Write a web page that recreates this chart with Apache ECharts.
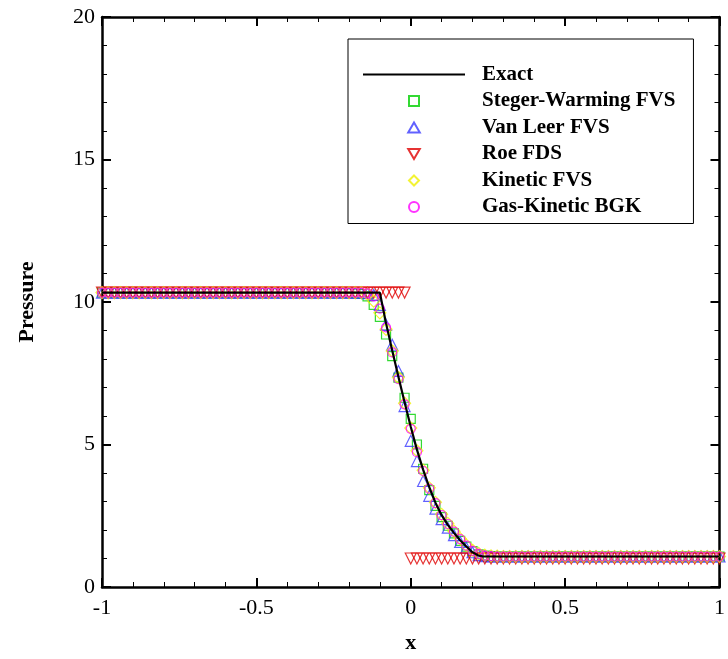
<!DOCTYPE html>
<html>
<head>
<meta charset="utf-8">
<script src="https://cdn.jsdelivr.net/npm/echarts@6/dist/echarts.min.js"></script>
<style>html,body{margin:0;padding:0;background:#fff}#c{width:728px;height:659px}</style>
</head>
<body>
<div id="c"></div>
<script>
// ---- data ----
const xs = [-1,-0.98,-0.96,-0.94,-0.92,-0.9,-0.88,-0.86,-0.84,-0.82,
 -0.8,-0.78,-0.76,-0.74,-0.72,-0.7,-0.68,-0.66,-0.64,-0.62,
 -0.6,-0.58,-0.56,-0.54,-0.52,-0.5,-0.48,-0.46,-0.44,-0.42,
 -0.4,-0.38,-0.36,-0.34,-0.32,-0.3,-0.28,-0.26,-0.24,-0.22,
 -0.2,-0.18,-0.16,-0.14,-0.12,-0.1,-0.08,-0.06,-0.04,-0.02,
 0,0.02,0.04,0.06,0.08,0.1,0.12,0.14,0.16,0.18,
 0.2,0.22,0.24,0.26,0.28,0.3,0.32,0.34,0.36,0.38,
 0.4,0.42,0.44,0.46,0.48,0.5,0.52,0.54,0.56,0.58,
 0.6,0.62,0.64,0.66,0.68,0.7,0.72,0.74,0.76,0.78,
 0.8,0.82,0.84,0.86,0.88,0.9,0.92,0.94,0.96,0.98,1];

const exactX = [-1,-0.1,-0.08,-0.06,-0.04,-0.02,0,0.02,0.04,0.06,0.08,0.1,0.12,0.14,0.16,0.18,0.2,0.22,0.235,1];
const exactP = [10.33,10.33,9.25,8.3,7.38,6.48,5.62,4.82,4.12,3.5,2.96,2.52,2.18,1.9,1.64,1.42,1.22,1.1,1.07,1.07];

const stegerWarming = [10.33,10.33,10.33,10.33,10.33,10.33,10.33,10.33,10.33,10.33,
 10.33,10.33,10.33,10.33,10.33,10.33,10.33,10.33,10.33,10.33,
 10.33,10.33,10.33,10.33,10.33,10.33,10.33,10.33,10.33,10.33,
 10.33,10.33,10.33,10.33,10.33,10.33,10.33,10.33,10.33,10.32,
 10.31,10.3,10.28,10.2,9.9,9.48,8.86,8.1,7.35,6.64,
 5.9,5.0,4.15,3.4,2.85,2.45,2.15,1.88,1.62,1.42,
 1.26,1.15,1.1,1.08,1.07,1.07,1.07,1.07,1.07,1.07,
 1.07,1.07,1.07,1.07,1.07,1.07,1.07,1.07,1.07,1.07,
 1.07,1.07,1.07,1.07,1.07,1.07,1.07,1.07,1.07,1.07,
 1.07,1.07,1.07,1.07,1.07,1.07,1.07,1.07,1.07,1.07,1.07];

const vanLeer = [10.33,10.33,10.33,10.33,10.33,10.33,10.33,10.33,10.33,10.33,
 10.33,10.33,10.33,10.33,10.33,10.33,10.33,10.33,10.33,10.33,
 10.33,10.33,10.33,10.33,10.33,10.33,10.33,10.33,10.33,10.33,
 10.33,10.33,10.33,10.33,10.33,10.33,10.33,10.33,10.33,10.33,
 10.33,10.33,10.33,10.31,10.25,9.9,9.2,8.5,7.58,6.35,
 5.13,4.42,3.72,3.2,2.75,2.38,2.08,1.82,1.58,1.38,
 1.22,1.12,1.08,1.07,1.07,1.07,1.07,1.07,1.07,1.07,
 1.07,1.07,1.07,1.07,1.07,1.07,1.07,1.07,1.07,1.07,
 1.07,1.07,1.07,1.07,1.07,1.07,1.07,1.07,1.07,1.07,
 1.07,1.07,1.07,1.07,1.07,1.07,1.07,1.07,1.07,1.07,1.07];

const roe = [10.33,10.33,10.33,10.33,10.33,10.33,10.33,10.33,10.33,10.33,
 10.33,10.33,10.33,10.33,10.33,10.33,10.33,10.33,10.33,10.33,
 10.33,10.33,10.33,10.33,10.33,10.33,10.33,10.33,10.33,10.33,
 10.33,10.33,10.33,10.33,10.33,10.33,10.33,10.33,10.33,10.33,
 10.33,10.33,10.33,10.33,10.33,10.33,10.33,10.33,10.33,10.33,
 1.0,1.0,1.0,1.0,1.0,1.0,1.0,1.0,1.0,1.0,
 1.0,1.0,1.0,1.0,1.0,1.0,1.0,1.0,1.0,1.0,
 1.0,1.0,1.0,1.0,1.0,1.0,1.0,1.0,1.0,1.0,
 1.0,1.0,1.0,1.0,1.0,1.0,1.0,1.0,1.0,1.0,
 1.0,1.0,1.0,1.0,1.0,1.0,1.0,1.0,1.0,1.0,1.0];

const kineticFVS = [10.33,10.33,10.33,10.33,10.33,10.33,10.33,10.33,10.33,10.33,
 10.33,10.33,10.33,10.33,10.33,10.33,10.33,10.33,10.33,10.33,
 10.33,10.33,10.33,10.33,10.33,10.33,10.33,10.33,10.33,10.33,
 10.33,10.33,10.33,10.33,10.33,10.33,10.33,10.33,10.33,10.33,
 10.33,10.33,10.33,10.28,10.03,9.62,9.04,8.28,7.35,6.45,
 5.58,4.78,4.1,3.48,2.97,2.55,2.23,1.96,1.7,1.47,
 1.29,1.18,1.12,1.09,1.08,1.07,1.07,1.07,1.07,1.07,
 1.07,1.07,1.07,1.07,1.07,1.07,1.07,1.07,1.07,1.07,
 1.07,1.07,1.07,1.07,1.07,1.07,1.07,1.07,1.07,1.07,
 1.07,1.07,1.07,1.07,1.07,1.07,1.07,1.07,1.07,1.07,1.07];

const gasKineticBGK = [10.33,10.33,10.33,10.33,10.33,10.33,10.33,10.33,10.33,10.33,
 10.33,10.33,10.33,10.33,10.33,10.33,10.33,10.33,10.33,10.33,
 10.33,10.33,10.33,10.33,10.33,10.33,10.33,10.33,10.33,10.33,
 10.33,10.33,10.33,10.33,10.33,10.33,10.33,10.33,10.33,10.33,
 10.33,10.33,10.33,10.3,10.19,9.77,9.11,8.23,7.29,6.41,
 5.55,4.73,4.07,3.45,2.94,2.52,2.21,1.94,1.68,1.45,
 1.27,1.16,1.1,1.08,1.07,1.07,1.07,1.07,1.07,1.07,
 1.07,1.07,1.07,1.07,1.07,1.07,1.07,1.07,1.07,1.07,
 1.07,1.07,1.07,1.07,1.07,1.07,1.07,1.07,1.07,1.07,
 1.07,1.07,1.07,1.07,1.07,1.07,1.07,1.07,1.07,1.07,1.07];

const xTicks = [-1, -0.5, 0, 0.5, 1];
const yTicks = [0, 5, 10, 15, 20];

// ---- chart ----
const FONT = 'Liberation Serif';
const zip = (a, b) => a.map((v, i) => [v, b[i]]);
const chart = echarts.init(document.getElementById('c'), null, {renderer: 'canvas'});

function axisCommon(showLabel) {
  return {
    axisLine: {show: true, onZero: false, lineStyle: {color: '#000', width: 2.5}},
    axisTick: {show: true, inside: true, length: 9, lineStyle: {color: '#000', width: 2}},
    minorTick: {show: true, splitNumber: 5, length: 5, lineStyle: {color: '#000', width: 1}},
    splitLine: {show: false},
    axisLabel: {show: showLabel, color: '#000', fontFamily: FONT, fontSize: 22}
  };
}

const scatterBase = (name, data, symbol, size, color, rotate) => ({
  name, type: 'scatter', data, symbol, symbolSize: size, symbolRotate: rotate || 0,
  itemStyle: {color: 'rgba(0,0,0,0)', borderColor: color, borderWidth: 1.2},
  z: 2, silent: true, animation: false
});

const ICON_RECT = 'path://M0,0 L10,0 L10,10 L0,10 Z';
const ICON_UP = 'path://M5,0 L10.5,9.5 L-0.5,9.5 Z';
const ICON_DOWN = 'path://M-0.5,0 L10.5,0 L5,9.5 Z';
const ICON_DIAMOND = 'path://M6,0 L12,6 L6,12 L0,6 Z';
const ICON_LINE = 'path://M0,0 L102,0 L102,2 L0,2 Z';

chart.setOption({
  animation: false,
  backgroundColor: '#fff',
  grid: {left: 102, top: 17, right: 2, bottom: 71, containLabel: false},
  xAxis: [
    Object.assign(axisCommon(true), {
      type: 'value', min: -1, max: 1, interval: 0.5, position: 'bottom',
      name: 'x', nameLocation: 'middle', nameGap: 45,
      nameTextStyle: {fontFamily: FONT, fontWeight: 'bold', fontSize: 22, color: '#000'},
      axisLabel: {show: true, color: '#000', fontFamily: FONT, fontSize: 22, margin: 10,
        formatter: v => xTicks.includes(v) ? String(v) : ''}
    }),
    Object.assign(axisCommon(false), {type: 'value', min: -1, max: 1, interval: 0.5, position: 'top'})
  ],
  yAxis: [
    Object.assign(axisCommon(true), {
      type: 'value', min: 0, max: 20, interval: 5, position: 'left',
      name: 'Pressure', nameLocation: 'middle', nameGap: 64, nameRotate: 90,
      nameTextStyle: {fontFamily: FONT, fontWeight: 'bold', fontSize: 22, color: '#000'},
      axisLabel: {show: true, color: '#000', fontFamily: FONT, fontSize: 22, margin: 7,
        formatter: v => yTicks.includes(v) ? String(v) : ''}
    }),
    Object.assign(axisCommon(false), {type: 'value', min: 0, max: 20, interval: 5, position: 'right'})
  ],
  legend: {
    orient: 'vertical', left: 348, top: 39,
    padding: [25, 18, 6, 15],
    borderColor: '#000', borderWidth: 1, backgroundColor: '#fff',
    itemWidth: 102, itemHeight: 10, itemGap: 5.5,
    symbolKeepAspect: true,
    textStyle: {fontFamily: FONT, fontWeight: 'bold', fontSize: 21, color: '#000', lineHeight: 21, padding: [0, 0, 0, 12]},
    selectedMode: false,
    data: [
      {name: 'Exact', icon: ICON_LINE, itemStyle: {color: '#000', borderWidth: 0}},
      {name: 'Steger-Warming FVS', icon: ICON_RECT},
      {name: 'Van Leer FVS', icon: ICON_UP},
      {name: 'Roe FDS', icon: ICON_DOWN},
      {name: 'Kinetic FVS', icon: ICON_DIAMOND},
      {name: 'Gas-Kinetic BGK', icon: 'circle'}
    ]
  },
  series: [
    {name: 'Exact', type: 'line', data: zip(exactX, exactP), symbol: 'none', showSymbol: false, smooth: false,
     lineStyle: {color: '#000', width: 2.2}, itemStyle: {color: '#000'}, z: 3, silent: true},
    scatterBase('Steger-Warming FVS', zip(xs, stegerWarming), 'rect', 9, '#00d000'),
    scatterBase('Van Leer FVS', zip(xs, vanLeer), 'triangle', 11, '#3a3aff'),
    scatterBase('Roe FDS', zip(xs, roe), 'triangle', 11, '#e00000', 180),
    scatterBase('Kinetic FVS', zip(xs, kineticFVS), 'diamond', 12, '#f0f000'),
    scatterBase('Gas-Kinetic BGK', zip(xs, gasKineticBGK), 'circle', 9, '#ff00ff')
  ]
});
</script>
</body>
</html>
